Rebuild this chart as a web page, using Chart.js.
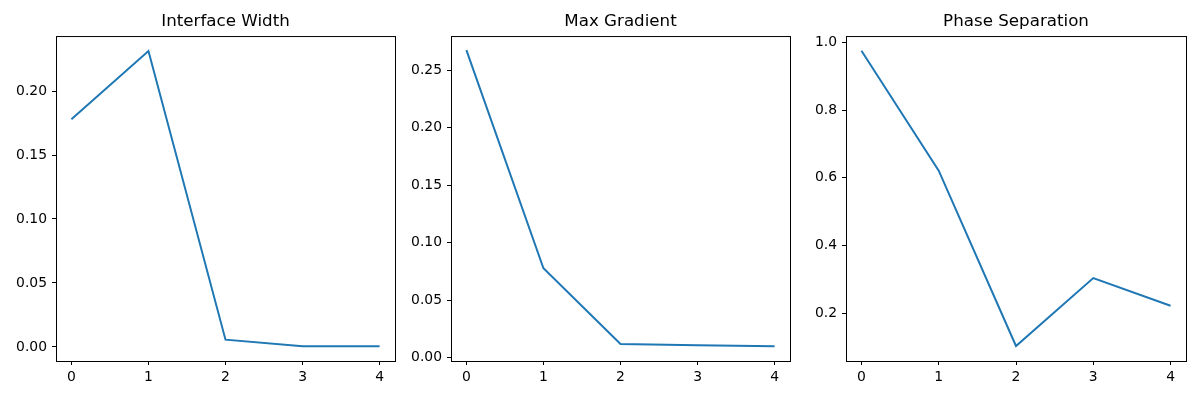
<!DOCTYPE html>
<html>
<head>
<meta charset="utf-8">
<script src="https://cdn.jsdelivr.net/npm/chart.js@4"></script>
<style>
  html, body { margin: 0; padding: 0; background: #fff; }
  .panel { position: absolute; top: 0; width: 400px; height: 400px; }
</style>
</head>
<body>
<div class="panel" style="left:0px"><canvas id="c1" width="400" height="400"></canvas></div>
<div class="panel" style="left:400px"><canvas id="c2" width="400" height="400"></canvas></div>
<div class="panel" style="left:800px"><canvas id="c3" width="400" height="400"></canvas></div>
<script>
// values
const steps = [0, 1, 2, 3, 4];
const interfaceWidth = [0.178, 0.2313, 0.0057, 0.0006, 0.0005];
const maxGradient = [0.2675, 0.0778, 0.0119, 0.0108, 0.0099];
const phaseSeparation = [0.975, 0.621, 0.1035, 0.304, 0.2225];

const xTicks = [0, 1, 2, 3, 4];
const yTicks1 = [0.00, 0.05, 0.10, 0.15, 0.20];
const yTicks2 = [0.00, 0.05, 0.10, 0.15, 0.20, 0.25];
const yTicks3 = [0.2, 0.4, 0.6, 0.8, 1.0];

const FONT = 'DejaVu Sans';

// matplotlib-like full frame round the plot area
const framePlugin = {
    id: 'frame',
    afterDraw(chart) {
        const a = chart.chartArea;
        const ctx = chart.ctx;
        ctx.save();
        ctx.strokeStyle = '#000';
        ctx.lineWidth = 1;
        ctx.strokeRect(a.left + 0.5, a.top + 0.5, a.right - a.left, a.bottom - a.top);
        ctx.restore();
    }
};

function makePanel(canvasId, title, values, yTicks, yMin, yMax, decimals, yWidth, padRight) {
    const ctx = document.getElementById(canvasId);
    const tickGrid = {
        display: true,
        drawOnChartArea: false,
        drawTicks: true,
        tickLength: 4,
        tickColor: '#000',
        tickWidth: 1
    };
    return new Chart(ctx, {
        type: 'line',
        data: {
            datasets: [{
                data: steps.map((s, i) => ({ x: s, y: values[i] })),
                borderColor: '#1f77b4',
                borderWidth: 2,
                pointRadius: 0,
                tension: 0,
                fill: false
            }]
        },
        options: {
            responsive: false,
            animation: false,
            devicePixelRatio: 1,
            layout: { padding: { left: 0, right: padRight, top: 0, bottom: 0 } },
            plugins: {
                legend: { display: false },
                tooltip: { enabled: false },
                title: {
                    display: true,
                    fullSize: false,   // centre over the plot area, like matplotlib
                    text: title,
                    color: '#000',
                    font: { family: FONT, size: 16.7, weight: 'normal', lineHeight: 1.2 },
                    padding: { top: 12, bottom: 4 }
                }
            },
            scales: {
                x: {
                    type: 'linear',
                    min: -0.2,
                    max: 4.2,
                    border: { display: false },
                    grid: tickGrid,
                    afterBuildTicks: (scale) => { scale.ticks = xTicks.map(v => ({ value: v })); },
                    afterFit: (scale) => { scale.height = 39; },
                    ticks: {
                        color: '#000',
                        padding: 4,
                        font: { family: FONT, size: 13.9 },
                        callback: (v) => String(v)
                    }
                },
                y: {
                    type: 'linear',
                    min: yMin,
                    max: yMax,
                    border: { display: false },
                    grid: tickGrid,
                    afterBuildTicks: (scale) => { scale.ticks = yTicks.map(v => ({ value: v })); },
                    afterFit: (scale) => { scale.width = yWidth; },
                    ticks: {
                        color: '#000',
                        padding: 5,
                        font: { family: FONT, size: 13.9 },
                        callback: (v) => Number(v).toFixed(decimals)
                    }
                }
            }
        },
        plugins: [framePlugin]
    });
}

makePanel('c1', 'Interface Width', interfaceWidth, yTicks1, -0.011, 0.243, 2, 56, 5);
makePanel('c2', 'Max Gradient', maxGradient, yTicks2, -0.0029, 0.2798, 2, 51, 10);
makePanel('c3', 'Phase Separation', phaseSeparation, yTicks3, 0.0592, 1.0186, 1, 46, 14);
</script>
</body>
</html>
